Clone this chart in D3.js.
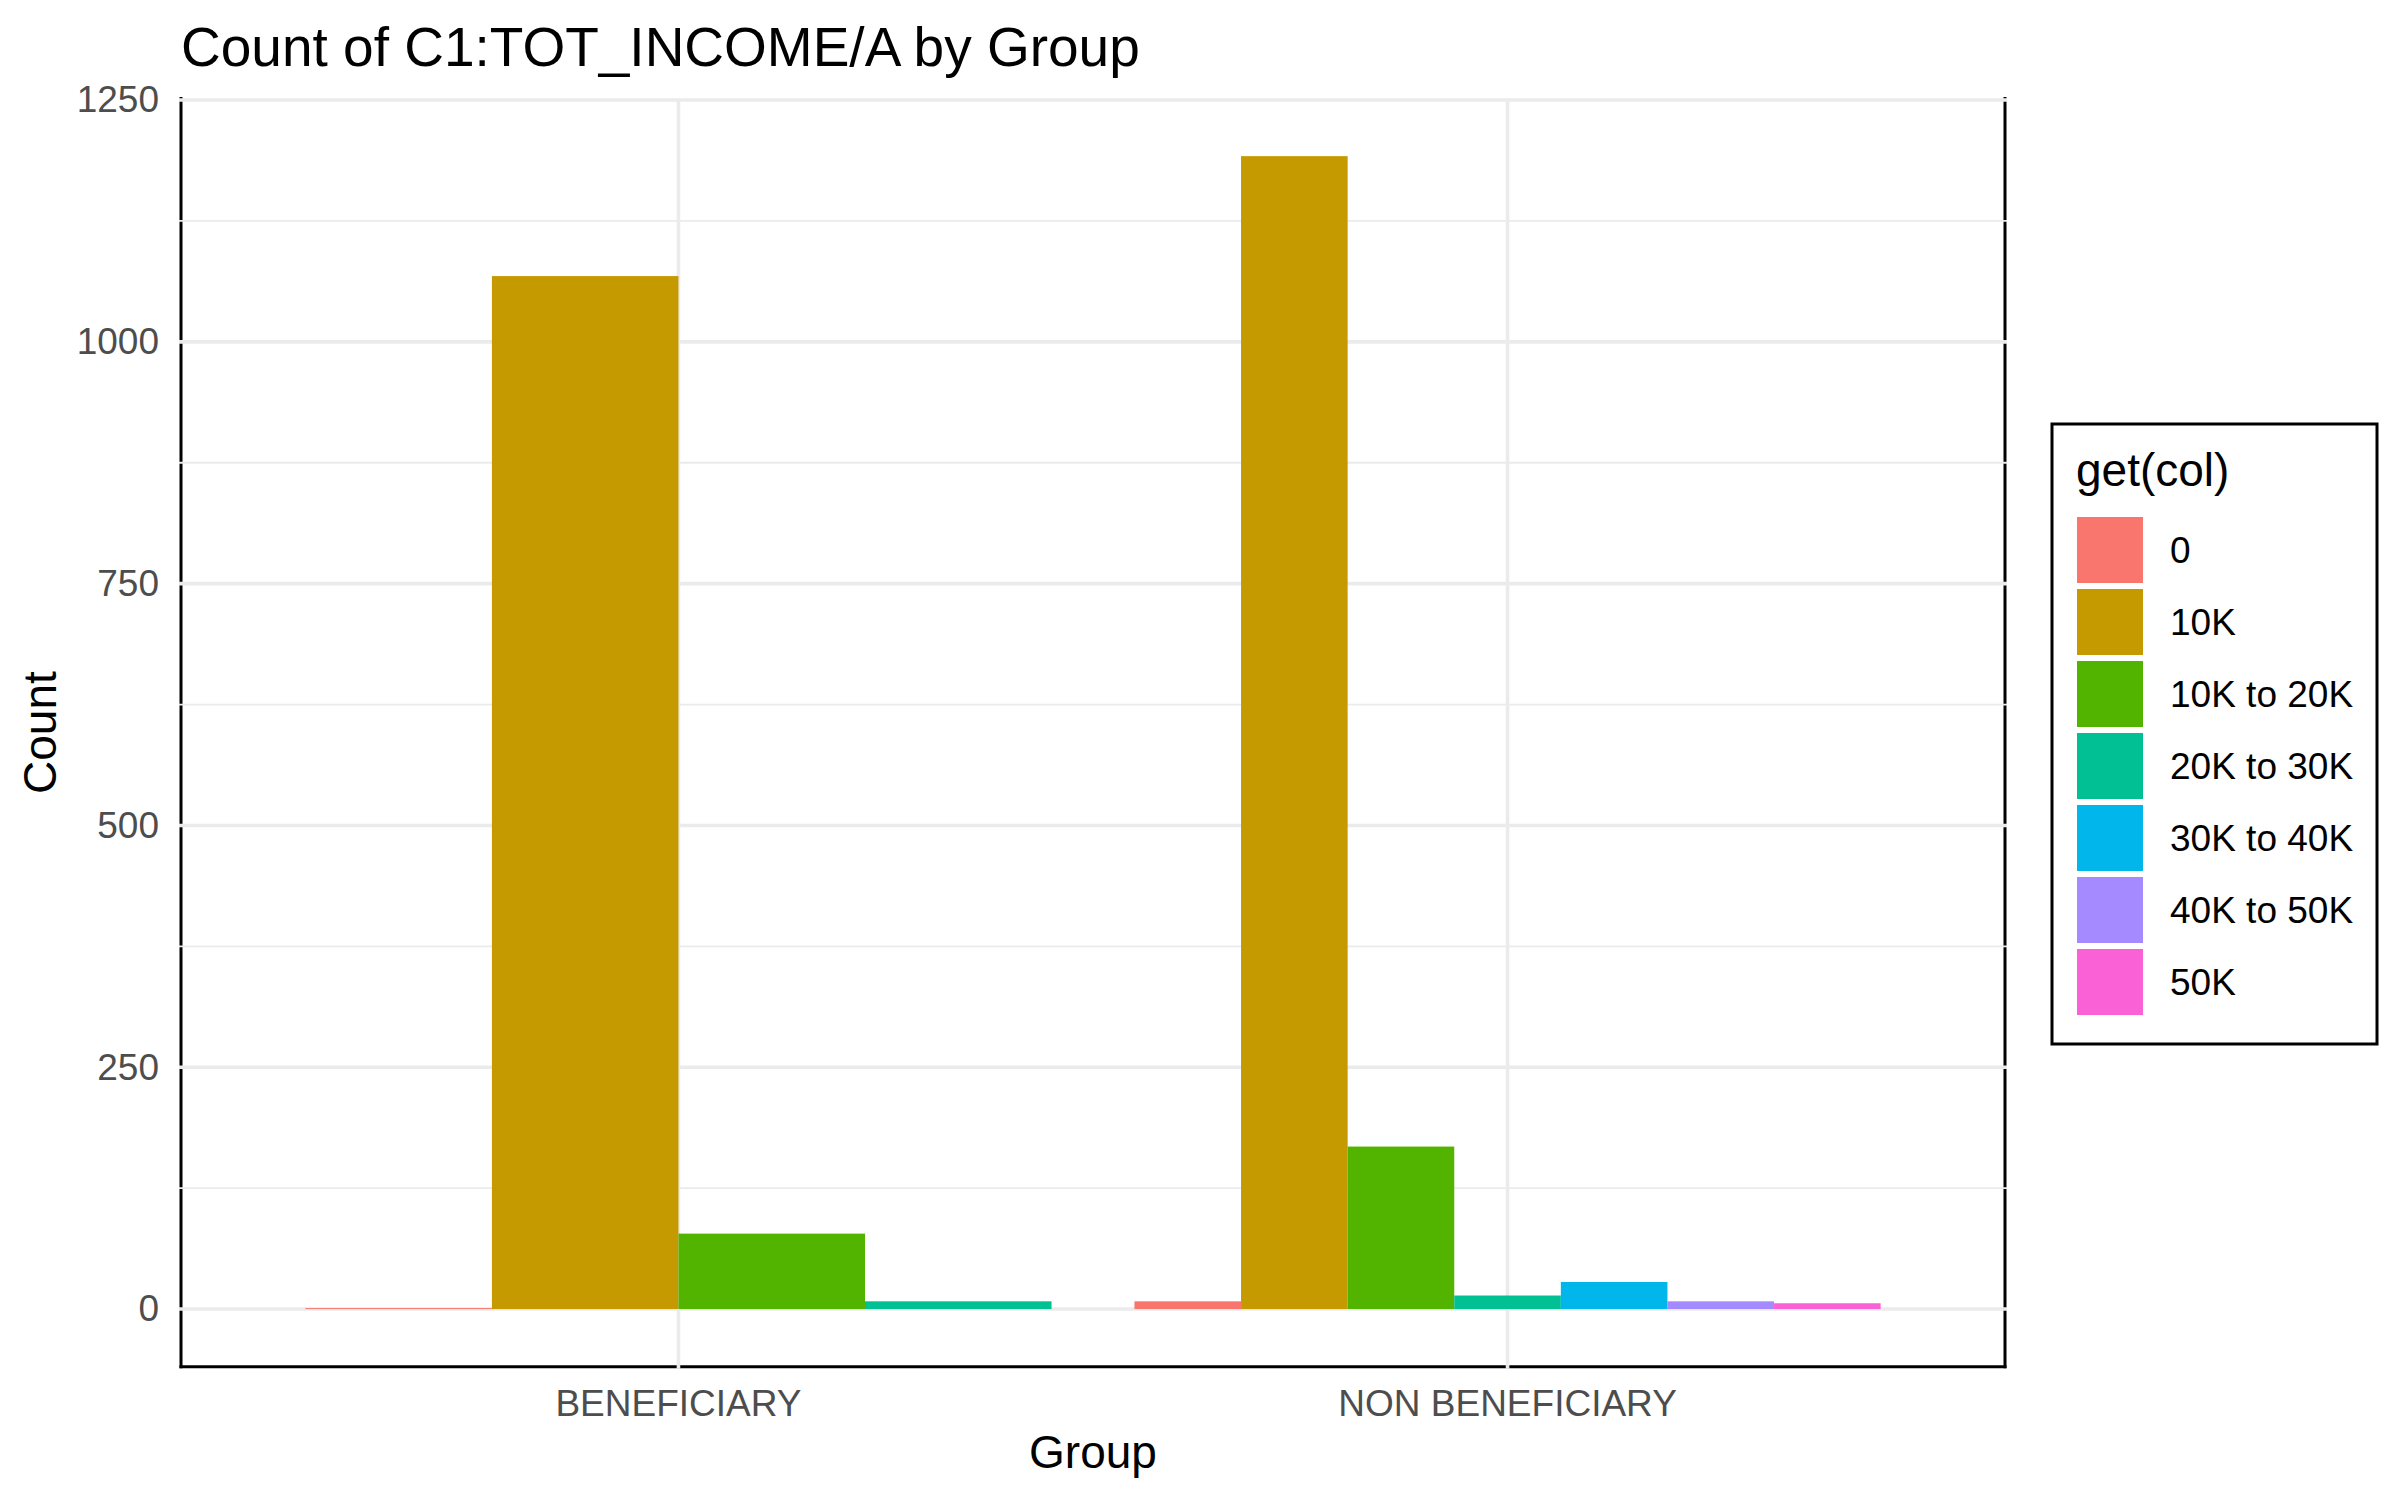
<!DOCTYPE html>
<html>
<head>
<meta charset="utf-8">
<script src="https://cdn.jsdelivr.net/npm/d3@7"></script>
<style>
  html, body { margin: 0; padding: 0; background: #fff; }
  svg { display: block; font-family: "Liberation Sans", Arial, sans-serif; }
</style>
</head>
<body>
<div class="bar-chart"></div>
<script>
// data
var groups = ["BENEFICIARY", "NON BENEFICIARY"];
var incomeLevels = ["0", "10K", "10K to 20K", "20K to 30K", "30K to 40K", "40K to 50K", "50K"];
var levelColors = ["#F8766D", "#C49A00", "#53B400", "#00C094", "#00B6EB", "#A58AFF", "#FB61D7"];
var beneficiaryLevels = ["0", "10K", "10K to 20K", "20K to 30K"];
var beneficiaryCounts = [1, 1068, 78, 8];
var nonBeneficiaryLevels = ["0", "10K", "10K to 20K", "20K to 30K", "30K to 40K", "40K to 50K", "50K"];
var nonBeneficiaryCounts = [8, 1192, 168, 14, 28, 8, 6];
var yTicks = [0, 250, 500, 750, 1000, 1250];
var yMinorTicks = [125, 375, 625, 875, 1125];

(function() {
    var W = 2400, H = 1500;
    var panel = { left: 181, right: 2005, top: 98.5, bottom: 1366.7 };

    var svg = d3.select(".bar-chart").append("svg")
        .attr("width", W)
        .attr("height", H);

    var rows = [
        { group: groups[0], levels: beneficiaryLevels, counts: beneficiaryCounts },
        { group: groups[1], levels: nonBeneficiaryLevels, counts: nonBeneficiaryCounts }
    ];

    var x0 = d3.scaleBand()
        .domain(groups)
        .range([panel.left, panel.right])
        .paddingInner(0.1)
        .paddingOuter(0.15);

    // ggplot style 5% expansion on both ends
    var yMax = d3.max(rows, function(r) { return d3.max(r.counts); });
    var pad = yMax * 0.05;
    var y = d3.scaleLinear()
        .domain([-pad, yMax + pad])
        .range([panel.bottom, panel.top]);

    var color = d3.scaleOrdinal().domain(incomeLevels).range(levelColors);

    // axis lines (left, bottom, right) -- grid is painted over them like the original
    svg.append("g").attr("class", "axis-lines")
        .selectAll("line")
        .data([
            [panel.left, panel.top, panel.left, panel.bottom],
            [panel.left, panel.bottom, panel.right, panel.bottom],
            [panel.right, panel.top, panel.right, panel.bottom]
        ])
        .enter().append("line")
        .attr("x1", function(d) { return d[0]; })
        .attr("y1", function(d) { return d[1]; })
        .attr("x2", function(d) { return d[2]; })
        .attr("y2", function(d) { return d[3]; })
        .attr("stroke", "#000")
        .attr("stroke-width", 3)
        .attr("stroke-linecap", "square");

    var grid = svg.append("g").attr("class", "grid");
    grid.selectAll(".minor")
        .data(yMinorTicks)
        .enter().append("line")
        .attr("class", "minor")
        .attr("x1", panel.left - 2).attr("x2", panel.right + 2)
        .attr("y1", function(d) { return y(d); })
        .attr("y2", function(d) { return y(d); })
        .attr("stroke", "#ebebeb")
        .attr("stroke-width", 1.8);
    grid.selectAll(".major")
        .data(yTicks)
        .enter().append("line")
        .attr("class", "major")
        .attr("x1", panel.left - 2).attr("x2", panel.right + 2)
        .attr("y1", function(d) { return y(d); })
        .attr("y2", function(d) { return y(d); })
        .attr("stroke", "#ebebeb")
        .attr("stroke-width", 3.6);
    grid.selectAll(".vmajor")
        .data(groups)
        .enter().append("line")
        .attr("class", "vmajor")
        .attr("x1", function(d) { return x0(d) + x0.bandwidth() / 2; })
        .attr("x2", function(d) { return x0(d) + x0.bandwidth() / 2; })
        .attr("y1", panel.top)
        .attr("y2", panel.bottom + 2)
        .attr("stroke", "#ebebeb")
        .attr("stroke-width", 3.6);

    // dodged bars, each group only has the levels it contains
    var slice = svg.selectAll(".slice")
        .data(rows)
        .enter().append("g")
        .attr("class", "slice")
        .attr("transform", function(d) { return "translate(" + x0(d.group) + ",0)"; });

    slice.each(function(r) {
        var x1 = d3.scaleBand()
            .domain(r.levels)
            .range([0, x0.bandwidth()]);
        d3.select(this).selectAll("rect")
            .data(r.levels.map(function(l, i) { return { level: l, value: r.counts[i] }; }))
            .enter().append("rect")
            .attr("x", function(d) { return x1(d.level); })
            .attr("width", x1.bandwidth())
            .attr("y", function(d) { return y(d.value); })
            .attr("height", function(d) { return y(0) - y(d.value); })
            .attr("fill", function(d) { return color(d.level); });
    });

    // tick labels
    var yAxis = svg.append("g")
        .attr("transform", "translate(" + panel.left + ",0)")
        .call(d3.axisLeft(y).tickValues(yTicks).tickFormat(d3.format("d")).tickSize(0).tickPadding(22));
    yAxis.select(".domain").remove();
    yAxis.selectAll("text")
        .attr("fill", "#4d4d4d")
        .style("font-size", "37px")
        .style("font-family", "'Liberation Sans', Arial, sans-serif");

    var xAxis = svg.append("g")
        .attr("transform", "translate(0," + panel.bottom + ")")
        .call(d3.axisBottom(x0).tickSize(0).tickPadding(23));
    xAxis.select(".domain").remove();
    xAxis.selectAll("text")
        .attr("fill", "#4d4d4d")
        .style("font-size", "37px")
        .style("font-family", "'Liberation Sans', Arial, sans-serif");

    // titles
    svg.append("text")
        .attr("x", panel.left)
        .attr("y", 66)
        .style("font-size", "55px")
        .attr("fill", "#000")
        .text("Count of C1:TOT_INCOME/A by Group");

    svg.append("text")
        .attr("x", (panel.left + panel.right) / 2)
        .attr("y", 1468)
        .attr("text-anchor", "middle")
        .style("font-size", "46px")
        .text("Group");

    svg.append("text")
        .attr("transform", "translate(56," + ((panel.top + panel.bottom) / 2) + ") rotate(-90)")
        .attr("text-anchor", "middle")
        .style("font-size", "46px")
        .text("Count");

    // legend
    var lg = { x: 2052, y: 424, w: 325, h: 620 };
    var legend = svg.append("g").attr("class", "legend");
    legend.append("rect")
        .attr("x", lg.x).attr("y", lg.y)
        .attr("width", lg.w).attr("height", lg.h)
        .attr("fill", "#fff")
        .attr("stroke", "#000")
        .attr("stroke-width", 3);
    legend.append("text")
        .attr("x", lg.x + 24)
        .attr("y", lg.y + 62)
        .style("font-size", "46px")
        .text("get(col)");

    var keySize = 66, keyStep = 72;
    var item = legend.selectAll(".item")
        .data(incomeLevels)
        .enter().append("g")
        .attr("class", "item")
        .attr("transform", function(d, i) { return "translate(" + (lg.x + 25) + "," + (lg.y + 93 + i * keyStep) + ")"; });
    item.append("rect")
        .attr("width", keySize)
        .attr("height", keySize)
        .attr("fill", function(d) { return color(d); });
    item.append("text")
        .attr("x", 93)
        .attr("y", keySize / 2)
        .attr("dy", "0.36em")
        .style("font-size", "37px")
        .text(function(d) { return d; });
})();
</script>
</body>
</html>
